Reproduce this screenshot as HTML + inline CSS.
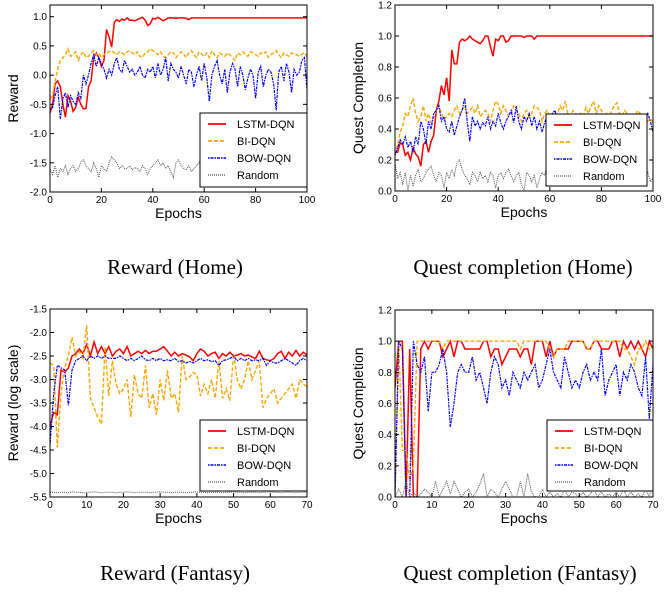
<!DOCTYPE html>
<html><head><meta charset="utf-8"><style>
body{margin:0;background:#fff;}
svg text{font-family:"Liberation Sans",sans-serif;}
.cap{font-family:"Liberation Serif",serif;font-size:21px;fill:#000;}
</style></head><body>
<svg id="root" width="669" height="587" viewBox="0 0 669 587" xmlns="http://www.w3.org/2000/svg">
<text class="cap" x="175" y="274" text-anchor="middle">Reward (Home)</text>
<text class="cap" x="523" y="274" text-anchor="middle">Quest completion (Home)</text>
<text class="cap" x="175" y="580" text-anchor="middle">Reward (Fantasy)</text>
<text class="cap" x="520" y="580" text-anchor="middle">Quest completion (Fantasy)</text>
</svg>
<script>
const seriesNames=["LSTM-DQN","BI-DQN","BOW-DQN","Random"];
// Panel 1: Reward (Home), epochs 0..100
const p1Lstm=[-0.65,-0.5,-0.15,-0.1,-0.2,-0.5,-0.72,-0.35,-0.45,-0.62,-0.55,-0.38,-0.5,-0.58,-0.57,-0.2,-0.1,0.3,0.38,0.3,0.15,0.25,0.78,0.65,0.48,0.9,0.95,0.92,0.96,0.94,0.98,0.94,0.94,0.93,0.95,0.97,0.99,0.94,0.85,0.88,0.97,0.96,0.99,0.96,0.93,0.95,0.98,0.98,0.98,0.97,0.98,0.98,0.98,0.97,0.95,0.98,0.98,0.98,0.98,0.98,0.98,0.98,0.98,0.98,0.98,0.98,0.98,0.98,0.98,0.98,0.98,0.98,0.98,0.98,0.98,0.98,0.98,0.98,0.98,0.98,0.98,0.98,0.98,0.98,0.98,0.98,0.98,0.98,0.98,0.98,0.98,0.98,0.98,0.98,0.98,0.98,0.98,0.98,0.98,0.98,0.98];
const p1Bi=[-0.4,-0.35,-0.1,0.1,0.25,0.3,0.35,0.45,0.32,0.35,0.4,0.25,0.35,0.4,0.3,0.32,0.38,0.42,0.35,0.38,0.3,0.35,0.38,0.4,0.42,0.38,0.35,0.4,0.38,0.35,0.4,0.42,0.38,0.35,0.4,0.32,0.3,0.38,0.4,0.45,0.42,0.38,0.35,0.4,0.32,0.3,0.35,0.4,0.38,0.3,0.35,0.4,0.36,0.3,0.38,0.42,0.35,0.3,0.4,0.36,0.32,0.38,0.3,0.42,0.35,0.3,0.38,0.35,0.32,0.38,0.35,0.3,0.25,0.38,0.35,0.4,0.36,0.32,0.4,0.38,0.35,0.32,0.38,0.36,0.4,0.3,0.35,0.38,0.42,0.35,0.3,0.38,0.35,0.32,0.38,0.36,0.35,0.32,0.36,0.38,0.32];
const p1Bow=[-0.6,-0.55,-0.35,-0.2,-0.75,-0.4,-0.3,-0.55,-0.35,-0.45,-0.5,-0.3,-0.4,0.0,-0.15,0.0,0.2,0.35,0.15,0.3,0.2,0.1,-0.05,0.1,0.0,0.2,0.3,0.1,0.05,0.25,0.15,0.05,0.1,0.0,0.05,0.15,0.0,-0.05,0.1,0.05,0.15,-0.05,0.2,0.0,0.1,0.3,-0.1,0.2,0.1,0.05,-0.05,0.15,0.0,-0.15,0.1,0.05,-0.2,0.0,0.15,-0.1,0.2,-0.05,-0.45,0.0,0.15,0.25,0.0,-0.15,0.1,-0.3,0.05,0.2,0.1,-0.2,0.15,0.0,-0.25,-0.05,0.1,0.0,-0.4,0.05,0.15,-0.2,0.0,0.1,0.05,-0.15,-0.6,0.05,0.15,-0.1,0.2,0.05,-0.3,0.1,0.0,0.05,0.25,0.3,-0.25];
const p1Rand=[-1.6,-1.7,-1.55,-1.75,-1.6,-1.65,-1.55,-1.7,-1.6,-1.55,-1.65,-1.6,-1.5,-1.45,-1.55,-1.6,-1.65,-1.5,-1.6,-1.75,-1.55,-1.6,-1.65,-1.5,-1.4,-1.45,-1.5,-1.6,-1.55,-1.6,-1.6,-1.55,-1.62,-1.58,-1.6,-1.65,-1.55,-1.6,-1.7,-1.6,-1.55,-1.5,-1.45,-1.55,-1.5,-1.6,-1.55,-1.65,-1.75,-1.5,-1.45,-1.55,-1.6,-1.62,-1.55,-1.65,-1.6,-1.55,-1.5,-1.6,-1.55,-1.6,-1.65,-1.6,-1.55,-1.6,-1.58,-1.62,-1.6,-1.55,-1.6,-1.65,-1.6,-1.55,-1.6,-1.62,-1.58,-1.6,-1.55,-1.6,-1.65,-1.6,-1.55,-1.6,-1.58,-1.62,-1.6,-1.55,-1.6,-1.65,-1.6,-1.55,-1.5,-1.6,-1.58,-1.62,-1.6,-1.55,-1.6,-1.55,-1.5];
// Panel 2: Quest Completion (Home)
const p2Lstm=[0.25,0.25,0.31,0.3,0.23,0.25,0.2,0.28,0.24,0.22,0.16,0.3,0.32,0.25,0.32,0.36,0.52,0.58,0.68,0.62,0.73,0.58,0.91,0.82,0.82,0.96,0.98,0.97,0.98,1.0,0.98,0.97,0.96,0.95,0.97,1.0,1.0,0.93,0.87,0.98,0.97,1.0,1.0,0.96,0.97,1.0,1.0,1.0,1.0,1.0,0.99,1.0,1.0,1.0,0.98,1.0,1.0,1.0,1.0,1.0,1.0,1.0,1.0,1.0,1.0,1.0,1.0,1.0,1.0,1.0,1.0,1.0,1.0,1.0,1.0,1.0,1.0,1.0,1.0,1.0,1.0,1.0,1.0,1.0,1.0,1.0,1.0,1.0,1.0,1.0,1.0,1.0,1.0,1.0,1.0,1.0,1.0,1.0,1.0,1.0,1.0];
const p2Bi=[0.23,0.3,0.38,0.42,0.5,0.48,0.55,0.6,0.5,0.45,0.48,0.55,0.45,0.5,0.44,0.48,0.52,0.55,0.5,0.46,0.48,0.5,0.48,0.52,0.55,0.5,0.52,0.55,0.5,0.52,0.54,0.5,0.55,0.48,0.5,0.52,0.5,0.45,0.52,0.58,0.56,0.5,0.55,0.52,0.48,0.5,0.55,0.52,0.5,0.45,0.5,0.52,0.48,0.5,0.55,0.54,0.52,0.45,0.5,0.52,0.48,0.5,0.46,0.5,0.55,0.52,0.58,0.5,0.48,0.52,0.5,0.46,0.5,0.48,0.54,0.5,0.55,0.58,0.5,0.55,0.52,0.48,0.5,0.46,0.52,0.55,0.57,0.5,0.48,0.52,0.5,0.46,0.5,0.48,0.52,0.5,0.48,0.5,0.45,0.47,0.44];
const p2Bow=[0.23,0.28,0.33,0.3,0.35,0.28,0.32,0.25,0.35,0.3,0.45,0.4,0.3,0.45,0.4,0.5,0.52,0.55,0.45,0.48,0.4,0.38,0.45,0.36,0.42,0.48,0.52,0.6,0.45,0.32,0.48,0.42,0.45,0.4,0.44,0.42,0.48,0.4,0.45,0.42,0.5,0.44,0.4,0.45,0.48,0.52,0.44,0.55,0.45,0.4,0.48,0.45,0.5,0.42,0.48,0.4,0.45,0.38,0.44,0.48,0.42,0.5,0.52,0.45,0.4,0.48,0.42,0.45,0.4,0.48,0.44,0.42,0.46,0.4,0.48,0.44,0.42,0.46,0.4,0.45,0.48,0.42,0.46,0.4,0.48,0.44,0.42,0.46,0.4,0.45,0.48,0.42,0.46,0.4,0.48,0.44,0.42,0.46,0.5,0.45,0.38];
const p2Rand=[0.18,0.08,0.12,0.04,0.12,0.0,0.1,0.03,0.1,0.14,0.06,0.08,0.12,0.14,0.16,0.1,0.06,0.12,0.1,0.02,0.12,0.08,0.14,0.1,0.18,0.2,0.14,0.1,0.08,0.04,0.12,0.1,0.06,0.12,0.08,0.1,0.06,0.12,0.1,0.02,0.1,0.12,0.08,0.12,0.14,0.1,0.06,0.1,0.12,0.04,0.0,0.12,0.1,0.06,0.1,0.02,0.08,0.12,0.1,0.18,0.08,0.04,0.1,0.12,0.06,0.1,0.08,0.12,0.04,0.1,0.08,0.12,0.06,0.1,0.08,0.04,0.12,0.1,0.06,0.1,0.08,0.12,0.04,0.1,0.08,0.12,0.06,0.1,0.08,0.04,0.12,0.1,0.06,0.1,0.08,0.12,0.04,0.1,0.12,0.06,0.08];
// Panel 3: Reward log scale (Fantasy), epochs 0..70
const p3Lstm=[-4.0,-3.7,-3.75,-2.8,-2.85,-2.75,-2.5,-2.45,-2.35,-2.45,-2.25,-2.5,-2.2,-2.45,-2.3,-2.45,-2.3,-2.5,-2.4,-2.35,-2.45,-2.3,-2.5,-2.45,-2.4,-2.45,-2.38,-2.45,-2.4,-2.4,-2.35,-2.3,-2.4,-2.5,-2.42,-2.5,-2.45,-2.48,-2.52,-2.6,-2.45,-2.35,-2.4,-2.5,-2.45,-2.42,-2.55,-2.45,-2.5,-2.42,-2.5,-2.48,-2.45,-2.5,-2.48,-2.52,-2.55,-2.4,-2.55,-2.58,-2.6,-2.55,-2.45,-2.4,-2.55,-2.42,-2.5,-2.38,-2.5,-2.42,-2.48];
const p3Bi=[-2.65,-2.7,-4.45,-3.3,-2.75,-2.5,-2.1,-2.5,-2.4,-2.55,-1.85,-3.4,-3.6,-3.8,-3.95,-2.3,-3.35,-2.6,-3.1,-3.3,-3.2,-3.0,-3.8,-2.9,-3.3,-3.4,-2.7,-3.6,-3.3,-3.75,-3.0,-3.45,-2.8,-3.4,-3.3,-3.7,-2.5,-3.0,-2.95,-2.85,-2.9,-3.35,-3.1,-3.3,-3.0,-3.4,-2.6,-3.4,-3.2,-3.45,-2.45,-3.0,-3.2,-3.0,-2.6,-3.0,-2.8,-2.6,-3.6,-3.4,-3.3,-3.2,-3.5,-3.4,-3.3,-3.2,-3.1,-3.4,-3.0,-3.1,-3.15];
const p3Bow=[-4.4,-3.3,-2.7,-2.75,-2.8,-3.55,-2.8,-2.6,-2.55,-2.5,-2.6,-2.5,-2.55,-2.5,-2.55,-2.5,-2.55,-2.55,-2.55,-2.5,-2.55,-2.6,-2.55,-2.6,-2.55,-2.5,-2.58,-2.6,-2.55,-2.6,-2.55,-2.6,-2.58,-2.6,-2.55,-2.62,-2.6,-2.65,-2.62,-2.65,-2.6,-2.55,-2.6,-2.58,-2.62,-2.6,-2.7,-2.6,-2.58,-2.55,-2.5,-2.6,-2.55,-2.6,-2.55,-2.6,-2.58,-2.6,-2.55,-2.7,-2.6,-2.65,-2.65,-2.6,-2.55,-2.6,-2.65,-2.7,-2.6,-2.55,-2.6];
const p3Rand=[-5.4,-5.4,-5.41,-5.4,-5.4,-5.41,-5.39,-5.4,-5.4,-5.41,-5.4,-5.4,-5.39,-5.4,-5.41,-5.4,-5.4,-5.4,-5.41,-5.4,-5.4,-5.39,-5.4,-5.41,-5.4,-5.4,-5.4,-5.41,-5.4,-5.4,-5.39,-5.4,-5.4,-5.41,-5.4,-5.4,-5.4,-5.41,-5.4,-5.4,-5.39,-5.4,-5.4,-5.41,-5.4,-5.4,-5.4,-5.41,-5.4,-5.4,-5.39,-5.4,-5.4,-5.41,-5.4,-5.4,-5.4,-5.41,-5.4,-5.4,-5.39,-5.4,-5.4,-5.41,-5.4,-5.4,-5.4,-5.41,-5.4,-5.4,-5.4];
// Panel 4: Quest Completion (Fantasy)
const p4Lstm=[0.7,1.0,1.0,0.0,0.95,0.0,0.0,0.95,1.0,0.95,1.0,1.0,1.0,0.9,0.95,1.0,0.9,1.0,1.0,0.95,0.95,0.95,0.95,0.95,1.0,1.0,0.9,0.95,0.95,0.85,0.9,0.95,0.95,0.95,0.9,0.95,0.95,0.85,1.0,1.0,1.0,0.9,1.0,0.9,0.95,0.95,0.95,0.95,1.0,1.0,1.0,1.0,0.95,0.95,1.0,1.0,0.95,0.95,0.95,1.0,1.0,0.9,1.0,0.95,1.0,0.95,1.0,0.95,0.9,1.0,0.95];
const p4Bi=[0.0,1.0,0.3,0.3,0.1,0.2,1.0,1.0,1.0,1.0,1.0,1.0,1.0,0.95,1.0,1.0,1.0,1.0,1.0,1.0,1.0,1.0,1.0,1.0,1.0,1.0,1.0,1.0,1.0,1.0,1.0,1.0,1.0,1.0,0.95,1.0,1.0,1.0,1.0,1.0,1.0,1.0,0.95,0.9,0.95,0.95,0.95,1.0,1.0,1.0,1.0,1.0,0.95,0.95,1.0,1.0,1.0,1.0,1.0,1.0,1.0,1.0,0.95,0.95,0.9,0.85,0.95,0.95,1.0,0.95,0.95];
const p4Bow=[0.0,1.0,0.95,0.0,0.0,1.0,0.85,0.8,0.9,0.55,0.8,0.8,0.85,0.95,0.8,0.45,0.6,0.8,0.85,0.8,0.8,0.9,0.75,0.8,0.7,0.6,0.8,0.9,0.85,0.7,0.75,0.65,0.8,0.75,0.7,0.8,0.75,0.8,0.85,0.7,0.75,0.85,0.95,0.8,0.75,0.7,0.9,0.8,0.7,0.75,0.7,0.8,0.85,0.75,0.8,0.75,0.95,0.65,0.75,0.8,0.85,0.65,0.8,0.75,0.85,0.8,0.7,0.65,0.9,0.5,0.85];
const p4Rand=[0.0,0.05,0.0,0.1,0.0,0.03,0.0,0.02,0.05,0.03,0.0,0.1,0.0,0.05,0.1,0.02,0.1,0.05,0.0,0.03,0.05,0.0,0.03,0.08,0.15,0.0,0.05,0.03,0.0,0.05,0.1,0.05,0.0,0.0,0.1,0.0,0.15,0.03,0.0,0.0,0.05,0.0,0.03,0.0,0.02,0.0,0.05,0.0,0.03,0.02,0.0,0.03,0.0,0.02,0.05,0.0,0.03,0.0,0.02,0.0,0.03,0.0,0.05,0.0,0.03,0.0,0.02,0.0,0.05,0.0,0.1];
const p1YTicks=["-2.0","-1.5","-1.0","-0.5","0.0","0.5","1.0"];
const p2YTicks=["0.0","0.2","0.4","0.6","0.8","1.0","1.2"];
const p3YTicks=["-5.5","-5.0","-4.5","-4.0","-3.5","-3.0","-2.5","-2.0","-1.5"];
const p4YTicks=p2YTicks;
const homeXTicks=["0","20","40","60","80","100"];
const fantasyXTicks=["0","10","20","30","40","50","60","70"];

const NS="http://www.w3.org/2000/svg";
const root=document.getElementById('root');
function mk(tag,attrs,parent){const e=document.createElementNS(NS,tag);for(const k in attrs)e.setAttribute(k,attrs[k]);(parent||root).appendChild(e);return e;}
const styles=[
 {stroke:"#ff0000",w:1.5,dash:""},
 {stroke:"#ffa500",w:1.4,dash:"4,2"},
 {stroke:"#0000ff",w:1.2,dash:"1.5,1,3,1"},
 {stroke:"#555555",w:1,dash:"1,1"}];
function panel(id,box,xmax,ymin,ymax,yticks,xticks,ylabel,series,leg){
 const [L,T,R,B]=box;
 const g=mk('g',{});
 
 
 const sx=v=>L+(v/xmax)*(R-L);
 const sy=v=>B-(v-ymin)/(ymax-ymin)*(B-T);
 const cp='clip-'+id;
 const cl=mk('clipPath',{id:cp},g);mk('rect',{x:L,y:T,width:R-L,height:B-T},cl);
 series.forEach((arr,si)=>{
  const d=arr.map((v,i)=>(i?'L':'M')+sx(i).toFixed(1)+' '+sy(v).toFixed(1)).join('');
  const p=mk('path',{d:d,fill:'none',stroke:styles[si].stroke,'stroke-width':styles[si].w,'stroke-dasharray':styles[si].dash,'clip-path':'url(#'+cp+')'},g);
  
  
 });
 const fr=mk('rect',{x:L,y:T,width:R-L,height:B-T,fill:'none',stroke:'#000','stroke-width':1},g);
 
 
 yticks.forEach(t=>{const v=parseFloat(t),y=sy(v);
  mk('line',{x1:L,x2:L+4,y1:y,y2:y,stroke:'#000'},g);mk('line',{x1:R,x2:R-4,y1:y,y2:y,stroke:'#000'},g);
  const tx=mk('text',{x:L-3,y:y+3.5,'font-size':10,'text-anchor':'end'},g);tx.textContent=t;
  
  });
 xticks.forEach(t=>{const v=parseFloat(t),x=sx(v);
  mk('line',{x1:x,x2:x,y1:B,y2:B-4,stroke:'#000'},g);mk('line',{x1:x,x2:x,y1:T,y2:T+4,stroke:'#000'},g);
  const tx=mk('text',{x:x,y:B+11,'font-size':10,'text-anchor':'middle'},g);tx.textContent=t;
  
  });
 const xl=mk('text',{x:(L+R)/2,y:B+26,'font-size':14,'text-anchor':'middle'},g);xl.textContent='Epochs';
 
 
 const cy=(T+B)/2;
 const yl=mk('text',{x:L-32,y:cy,'font-size':14,'text-anchor':'middle',transform:'rotate(-90 '+(L-32)+' '+cy+')'},g);yl.textContent=ylabel;
 
 
 const [lx,ly,lw,lh]=leg;
 const lg=mk('g',{},g);
 
 
 mk('rect',{x:lx,y:ly,width:lw,height:lh,fill:'#fff',stroke:'#000'},lg);
 seriesNames.forEach((n,i)=>{const yy=ly+11+i*17;
  mk('line',{x1:lx+8,x2:lx+26,y1:yy,y2:yy,stroke:styles[i].stroke,'stroke-width':styles[i].w+0.3,'stroke-dasharray':styles[i].dash},lg);
  const t=mk('text',{x:lx+37,y:yy+4,'font-size':11},lg);t.textContent=n;
  
  });
}
panel('chart-reward-home',[50,5,307,192],100,-2,1.2,p1YTicks,homeXTicks,'Reward',[p1Lstm,p1Bi,p1Bow,p1Rand],[200,113,107,74]);
panel('chart-quest-home',[395,5,653,191],100,0,1.2,p2YTicks,homeXTicks,'Quest Completion',[p2Lstm,p2Bi,p2Bow,p2Rand],[546,114,101,72]);
panel('chart-reward-fantasy',[50,309,307,497],70,-5.5,-1.5,p3YTicks,fantasyXTicks,'Reward (log scale)',[p3Lstm,p3Bi,p3Bow,p3Rand],[200,420,107,71]);
panel('chart-quest-fantasy',[395,310,653,497],70,0,1.2,p4YTicks,fantasyXTicks,'Quest Completion',[p4Lstm,p4Bi,p4Bow,p4Rand],[547,420,106,71]);
</script>
</body></html>
